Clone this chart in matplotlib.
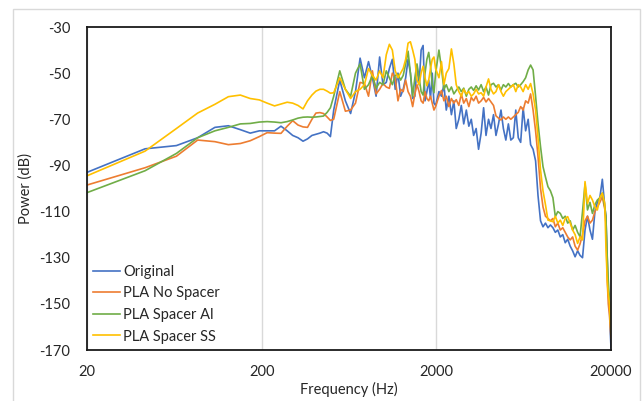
import matplotlib
matplotlib.use("Agg")
import matplotlib.pyplot as plt
from matplotlib.patches import Rectangle
from matplotlib.ticker import FixedLocator, FixedFormatter, NullLocator

plt.rcParams['font.family'] = ['Lato', 'DejaVu Sans']

freq = [20, 43, 65, 86, 108, 129, 151, 172, 194, 215, 237, 258, 280, 301, 323, 345,
        366, 388, 409, 431, 452, 474, 495,
        517, 560, 603, 646, 689, 732, 775, 818, 861, 904, 947, 990, 1034, 1077, 1120,
        1163, 1206, 1249, 1292, 1335, 1378, 1421, 1464, 1507, 1550, 1593, 1637, 1680,
        1723, 1766, 1809, 1852, 1895, 1938, 1981,
        2070, 2140, 2210, 2280, 2360, 2440, 2520, 2600, 2690, 2780, 2870, 2970, 3070,
        3170, 3270, 3380, 3490, 3610, 3730, 3850, 3980, 4110, 4250, 4390, 4540, 4690,
        4840, 5000, 5170, 5340, 5520, 5700, 5890, 6080, 6280, 6490, 6710, 6930, 7160,
        7400, 7640, 7900, 8160, 8430, 8710, 9000, 9300, 9600, 9920, 10250, 10590,
        10940, 11300, 11680, 12060, 12460, 12880, 13300, 13740, 14200, 14670, 15160,
        15660, 16180, 16710, 17270, 17840, 18430, 18700, 19040, 19300, 19600, 19800,
        20000]

original = [-93, -82.8, -81.4, -78, -73.5, -72.8, -74.5, -76, -75, -75, -75, -73, -75,
            -77, -78, -79.5, -78.5, -77, -76.5, -76, -75.4, -76, -77.5,
            -66, -53, -62, -67.5, -58, -43.5, -52, -45, -52, -60, -43, -55, -54, -48,
            -44, -57, -50, -60, -57, -52, -44, -50, -61, -60, -47, -55, -40, -38, -62,
            -58, -53, -61, -50, -63, -64,
            -58, -60, -55, -66, -60, -68, -62, -74, -70, -64, -72, -66, -73, -70, -77,
            -74, -83, -76, -65, -77, -70, -74, -68, -77, -72, -66, -74, -79, -72, -79,
            -78, -66, -78, -80, -65, -75, -70, -81, -83, -88, -103, -114, -116.6, -115,
            -117, -115.8, -117, -119, -118, -121, -120, -123.5, -122, -125, -127,
            -129.6, -127, -129, -130, -118, -112, -118, -122, -110, -106, -104, -96,
            -108, -112, -131, -145, -150, -162, -169]

pla_no_spacer = [-98.5, -91, -86, -79, -79.7, -81, -80.5, -79.3, -77.5, -75.8, -76,
                 -76.1, -73, -70.6, -72.5, -73.3, -73.5, -70, -67.3, -67.1, -67.5, -69,
                 -70.5,
                 -70, -58, -66.5, -66, -63, -54, -54.5, -60, -49, -59, -57, -54.5, -56,
                 -56.6, -50, -52, -62, -57, -58, -53, -58, -60, -64.5, -59, -55, -58,
                 -62, -63, -58, -61, -62, -60, -63, -66, -64.5,
                 -60, -57.5, -62, -60, -64.5, -61, -63, -61.5, -64, -59, -63, -61,
                 -64.5, -60.5, -62, -60, -63, -62, -60.5, -62.5, -61, -62.5, -64, -68.5,
                 -69.5, -70.3, -69, -70, -69, -70, -69, -68, -67, -64.5, -66, -62, -63,
                 -59, -66, -75, -86, -100, -108, -112, -113, -114, -113, -116.6, -115,
                 -118, -117, -119, -121, -122.3, -121, -125, -126.7, -124, -120, -114,
                 -112, -115, -113.7, -110, -108, -106, -103.6, -109, -115, -140, -150,
                 -155, -160, -165]

pla_spacer_al = [-101.8, -92.3, -84.8, -78, -75, -73.5, -72, -71.8, -71.2, -71, -71.2,
                 -71.5, -71, -70.3, -69.5, -69.1, -69, -69.1, -69, -68.8, -68.6, -67,
                 -65,
                 -60, -49, -57, -60, -50, -46, -57, -55, -51, -56.5, -54, -55, -49, -52,
                 -55, -51, -50.5, -53, -51, -46, -40.5, -50, -60, -52, -46, -52, -58,
                 -59.5, -50, -44, -41, -47, -55, -58.5, -50,
                 -40, -48, -57, -55, -58, -56, -59, -57.5, -56, -58, -56.5, -60, -57,
                 -56, -57.5, -55.5, -57.3, -55, -58, -56, -59.5, -55, -54.4, -56, -55,
                 -57.3, -55, -56, -54.5, -56, -55, -54.4, -56, -55, -53.7, -52, -48.6,
                 -46.5, -48.6, -60, -71.7, -81.9, -90.5, -95, -99.2, -101, -104, -112.2,
                 -110, -110.8, -113, -112, -115, -114, -118, -116, -119, -120.9, -110,
                 -98, -109.3, -106, -110.8, -107, -105, -104, -102, -108, -112, -130,
                 -140, -148, -155, -160]

pla_spacer_ss = [-94.5, -83.8, -74, -67.3, -63.5, -60.2, -59.5, -61, -61.6, -63, -64.2,
                 -63.4, -62.6, -63, -64, -65.5, -62, -59.5, -57.8, -57, -57, -57.8,
                 -58.7,
                 -58.5, -52, -57, -61, -58, -57, -55, -48, -51, -53, -49, -52, -42,
                 -37.5, -40, -49, -52, -50, -48, -44, -37, -36.4, -40, -44, -53, -55,
                 -50, -47, -52, -55.5, -53, -48, -44, -43, -48,
                 -52, -45, -55, -50, -48, -39.5, -46, -55, -58, -60, -57, -59, -58, -60,
                 -59, -57, -59, -58.5, -60, -56, -52.5, -57, -59, -58, -55, -58, -60,
                 -58, -57, -56, -55, -58, -55, -56, -58, -55, -57, -54.5, -59, -66, -78,
                 -92, -101, -107, -113.7, -114, -114.4, -112, -115, -113.7, -116, -113,
                 -112.2, -115, -118, -120, -123.8, -121, -122.3, -97, -106.5, -103,
                 -105, -108, -109.3, -104, -102, -106.5, -125, -140, -146, -150, -157,
                 -163]

series_names = ['Original', 'PLA No Spacer', 'PLA Spacer Al', 'PLA Spacer SS']
series_colors = ['#4472C4', '#ED7D31', '#70AD47', '#FFC000']

x_ticks = [20, 200, 2000, 20000]
x_tick_labels = ['20', '200', '2000', '20000']
y_ticks = [-30, -50, -70, -90, -110, -130, -150, -170]

W, H = 643, 401
fig = plt.figure(figsize=(W / 100, H / 100), dpi=100)
fig.patch.set_facecolor('white')
fig.add_artist(Rectangle((13 / W, -0.1), (640 - 13) / W, 1.1 - 9 / H,
                         transform=fig.transFigure, fill=False,
                         edgecolor='#d9d9d9', linewidth=1.0))

ax = fig.add_axes([87 / W, 1 - 350 / H, (611 - 87) / W, (350 - 27) / H])

for vals, name, col in zip([original, pla_no_spacer, pla_spacer_al, pla_spacer_ss],
                           series_names, series_colors):
    ax.plot(freq, vals, color=col, linewidth=1.2, label=name, solid_joinstyle='round')

ax.set_xscale('log')
ax.set_xlim(20, 20000)
ax.set_ylim(-170, -30)
ax.xaxis.set_major_locator(FixedLocator(x_ticks))
ax.xaxis.set_major_formatter(FixedFormatter(x_tick_labels))
ax.xaxis.set_minor_locator(NullLocator())
ax.set_yticks(y_ticks)
ax.set_yticklabels([str(v) for v in y_ticks])
ax.tick_params(axis='both', length=0, labelsize=10.5, colors='#262626')
ax.tick_params(axis='y', pad=12)
ax.tick_params(axis='x', pad=11)
ax.grid(axis='x', which='major', color='#d9d9d9', linewidth=1.0)
ax.set_axisbelow(True)
for s in ax.spines.values():
    s.set_color('#1a1a1a')
    s.set_linewidth(1.3)

ax.set_xlabel('Frequency (Hz)', fontsize=10.5, color='#262626', labelpad=2)
ax.set_ylabel('Power (dB)', fontsize=10.5, color='#262626', labelpad=5)

leg = ax.legend(loc='lower left', bbox_to_anchor=(0.012, 0.02), frameon=False,
                fontsize=10.5, handlelength=1.8, handletextpad=0.25, labelspacing=0.52,
                borderpad=0, borderaxespad=0)
for t in leg.get_texts():
    t.set_color('#262626')

fig.savefig('out.png', dpi=100)
